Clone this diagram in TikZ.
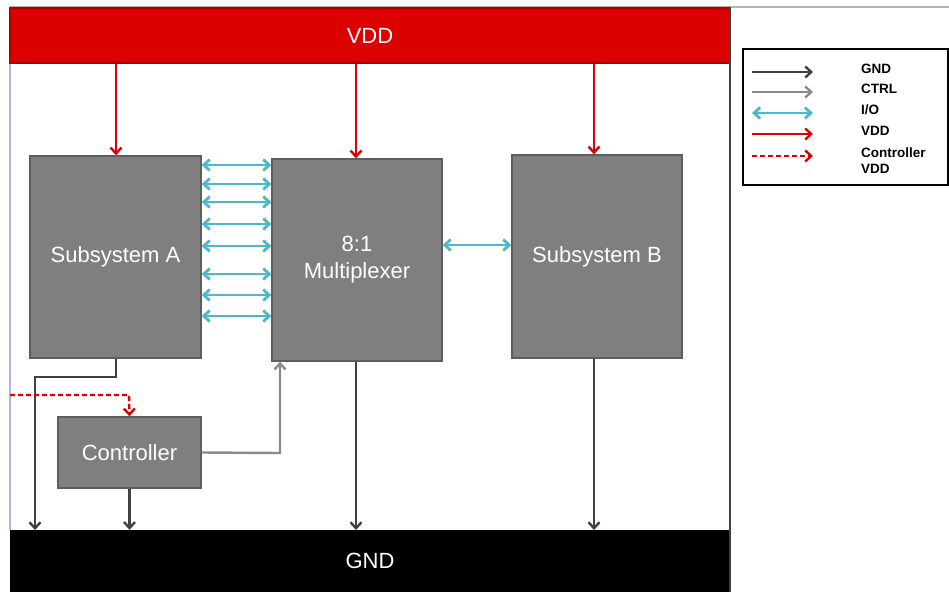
\documentclass[tikz,border=0pt]{standalone}
\usepackage{fontspec}
\setmainfont{Liberation Sans}
\usetikzlibrary{arrows.meta}
\definecolor{boxgray}{HTML}{7F7F7F}
\definecolor{boxedge}{HTML}{5E5E5E}
\definecolor{vddred}{HTML}{DD0000}
\definecolor{iocyan}{HTML}{4BB8CC}
\definecolor{gndgray}{HTML}{404040}
\definecolor{ctrlgray}{HTML}{8A8A8A}
\tikzset{
  blk/.style={draw=boxedge, line width=1.4pt, fill=boxgray, text=white, font=\fontsize{22}{27}\selectfont, align=center, inner sep=0pt},
  gndw/.style={draw=gndgray, line width=2.4pt, -{Straight Barb[length=6pt,width=11pt]}},
  ctrlw/.style={draw=ctrlgray, line width=2.4pt, -{Straight Barb[length=6pt,width=11pt]}},
  vddw/.style={draw=vddred, line width=2.4pt, -{Straight Barb[length=6pt,width=11pt]}},
  cvddw/.style={draw=vddred, line width=2.4pt, dash pattern=on 5pt off 3pt, -{Straight Barb[length=6pt,width=11pt]}},
  iow/.style={draw=iocyan, line width=2.8pt, {Straight Barb[length=6pt,width=11pt]}-{Straight Barb[length=6pt,width=11pt]}},
  legtext/.style={font=\bfseries\fontsize{13.5}{16}\selectfont, anchor=west, inner sep=0pt, align=left},
}
\begin{document}
\begin{tikzpicture}[x=1pt,y=-1pt]
\useasboundingbox (0,0) rectangle (949,592);
\fill[white] (0,0) rectangle (949,592);
% frame lines
\draw[gray!60, line width=1.4pt] (10,7) -- (949,7);
\draw[gray!50!blue!40, line width=1.2pt] (10,63) -- (10,530);
% bars
\node[fill=vddred, draw=vddred!80!black, line width=1.2pt, minimum width=720pt, minimum height=55pt, inner sep=0pt, text=white, font=\fontsize{22}{27}\selectfont] (vdd) at (370,35.5) {VDD};
\node[fill=black, minimum width=720pt, minimum height=62pt, inner sep=0pt, text=white, font=\fontsize{22}{27}\selectfont] (gnd) at (370,561) {\raisebox{-2pt}{GND}};
\draw[gndgray, line width=2.4pt] (730,8) -- (730,592);
% blocks
\node[blk, minimum width=171pt, minimum height=202pt] (sa) at (115.5,257) {Subsystem A};
\node[blk, minimum width=170pt, minimum height=202pt] (mux) at (357,260) {\raisebox{-2pt}{8:1}\\\raisebox{-2pt}{Multiplexer}};
\node[blk, minimum width=170pt, minimum height=203pt] (sb) at (597,256.5) {Subsystem B};
\node[blk, minimum width=143pt, minimum height=71pt] (ctl) at (129.5,452.5) {Controller};
% VDD arrows
\draw[vddw] (116,63) -- (sa.north -| 116,0);
\draw[vddw] (356,63) -- (mux.north -| 356,0);
\draw[vddw] (594,63) -- (sb.north -| 594,0);
% IO arrows
\foreach \y in {165,184,202,224,246,274,295,316}{
  \draw[iow] (sa.east |- 0,\y) -- (mux.west |- 0,\y);
}
\draw[iow] (mux.east |- 0,245) -- (sb.west |- 0,245);
% GND arrows
\coordinate (ga) at (35,530);
\draw[gndw] (sa.south -| 116,0) -- (116,377) -- (35,377) -- (ga);
\draw[gndw] (ctl.south) -- (ctl.south |- gnd.north);
\draw[gndw] (mux.south -| 356,0) -- (356,530);
\draw[gndw] (sb.south -| 594,0) -- (594,530);
% CTRL
\draw[ctrlw] (ctl.east) -- (280,453) -- (mux.south -| 280,0);
% controller VDD
\coordinate (cv) at (10,395);
\draw[cvddw] (cv) -- (129,395) -- (ctl.north);
% legend
\node[draw=black, line width=1.6pt, minimum width=205pt, minimum height=136pt, inner sep=0pt] (leg) at (845.5,117) {};
\coordinate (l1a) at (752,72); \coordinate (l1b) at (813,72);
\coordinate (l2a) at (752,92); \coordinate (l2b) at (813,92);
\coordinate (l3a) at (752,113); \coordinate (l3b) at (813,113);
\coordinate (l4a) at (752,134); \coordinate (l4b) at (813,134);
\coordinate (l5a) at (752,156); \coordinate (l5b) at (813,156);
\draw[gndw] (l1a) -- (l1b);
\draw[ctrlw] (l2a) -- (l2b);
\draw[iow] (l3a) -- (l3b);
\draw[vddw] (l4a) -- (l4b);
\draw[cvddw] (l5a) -- (l5b);
\node[legtext] (t1) at (861,69) {GND};
\node[legtext] (t2) at (861,89) {CTRL};
\node[legtext] (t3) at (861,110) {I/O};
\node[legtext] (t4) at (861,131) {VDD};
\node[legtext] (t5) at (861,161) {Controller\\VDD};
\end{tikzpicture}
\end{document}
